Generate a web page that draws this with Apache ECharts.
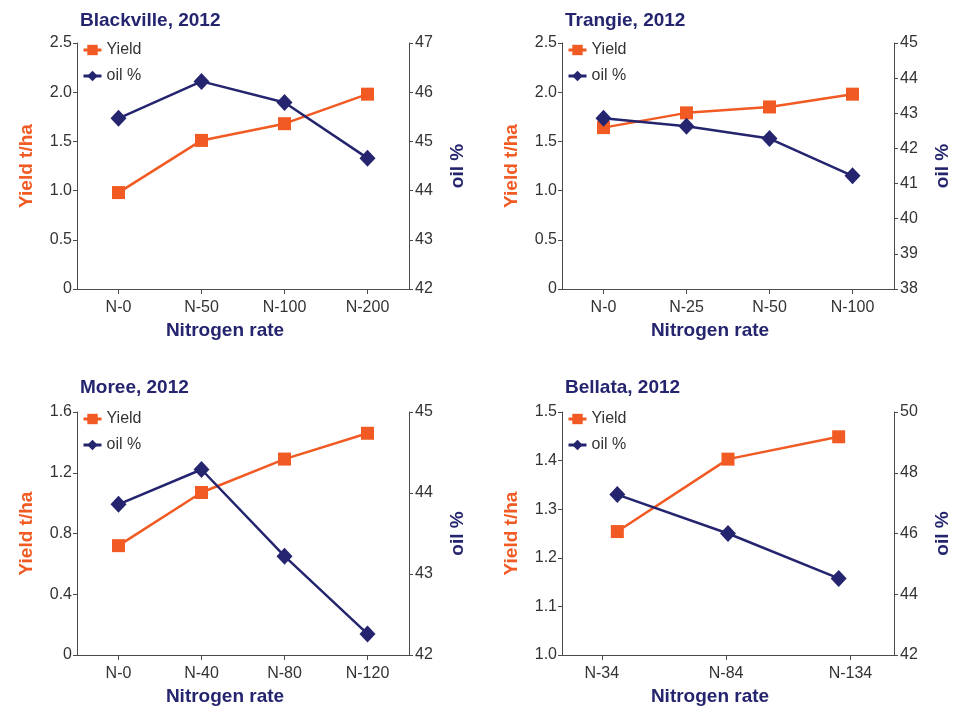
<!DOCTYPE html>
<html><head><meta charset="utf-8">
<script src="https://cdn.jsdelivr.net/npm/echarts@6/dist/echarts.min.js"></script>
<style>html,body{margin:0;padding:0;background:#fff}#c{width:954px;height:707px}</style>
</head><body><div id="c"></div>
<script>
// ---- data ----
const titles = ['Blackville, 2012', 'Trangie, 2012', 'Moree, 2012', 'Bellata, 2012'];
const catBlackville = ['N-0', 'N-50', 'N-100', 'N-200'];
const catTrangie = ['N-0', 'N-25', 'N-50', 'N-100'];
const catMoree = ['N-0', 'N-40', 'N-80', 'N-120'];
const catBellata = ['N-34', 'N-84', 'N-134'];

const yieldBlackville = [0.98, 1.51, 1.68, 1.98];
const oilBlackville = [45.47, 46.22, 45.79, 44.66];
const yieldTrangie = [1.64, 1.79, 1.85, 1.98];
const oilTrangie = [42.86, 42.63, 42.28, 41.22];
const yieldMoree = [0.72, 1.07, 1.29, 1.46];
const oilMoree = [43.86, 44.29, 43.22, 42.26];
const yieldBellata = [1.254, 1.403, 1.449];
const oilBellata = [47.28, 46.0, 44.52];

const yTicksBlackville = ['0', '0.5', '1.0', '1.5', '2.0', '2.5'];
const oTicksBlackville = ['42', '43', '44', '45', '46', '47'];
const yTicksTrangie = ['0', '0.5', '1.0', '1.5', '2.0', '2.5'];
const oTicksTrangie = ['38', '39', '40', '41', '42', '43', '44', '45'];
const yTicksMoree = ['0', '0.4', '0.8', '1.2', '1.6'];
const oTicksMoree = ['42', '43', '44', '45'];
const yTicksBellata = ['1.0', '1.1', '1.2', '1.3', '1.4', '1.5'];
const oTicksBellata = ['42', '44', '46', '48', '50'];

// ---- styles ----
const ORANGE = '#f15a22';
const NAVY = '#24246f';
const AXIS = '#4a4a4a';
const TXT = '#333333';
const FONT = '"Liberation Sans", Arial, sans-serif';

const panels = [
  {title: titles[0], cats: catBlackville, y: yieldBlackville, o: oilBlackville, yT: yTicksBlackville, oT: oTicksBlackville,
   yMin: 0, yMax: 2.5, yInt: 0.5, oMin: 42, oMax: 47, oInt: 1, left: 77, right: 545, top: 43, height: 246, tx: 80, ty: 11},
  {title: titles[1], cats: catTrangie, y: yieldTrangie, o: oilTrangie, yT: yTicksTrangie, oT: oTicksTrangie,
   yMin: 0, yMax: 2.5, yInt: 0.5, oMin: 38, oMax: 45, oInt: 1, left: 562, right: 60, top: 43, height: 246, tx: 565, ty: 11},
  {title: titles[2], cats: catMoree, y: yieldMoree, o: oilMoree, yT: yTicksMoree, oT: oTicksMoree,
   yMin: 0, yMax: 1.6, yInt: 0.4, oMin: 42, oMax: 45, oInt: 1, left: 77, right: 545, top: 412, height: 246, tx: 80, ty: 378},
  {title: titles[3], cats: catBellata, y: yieldBellata, o: oilBellata, yT: yTicksBellata, oT: oTicksBellata,
   yMin: 1.0, yMax: 1.5, yInt: 0.1, oMin: 42, oMax: 50, oInt: 2, left: 562, right: 60, top: 412, height: 246, tx: 565, ty: 378,
   offsetTicks: true}
];

const option = {
  animation: false,
  backgroundColor: '#ffffff',
  title: [], grid: [], xAxis: [], yAxis: [], series: [], legend: []
};

function tickFmt(arr, min, step) {
  return function (v) { const i = Math.round((v - min) / step); return arr[i] !== undefined ? arr[i] : ''; };
}

panels.forEach((p, i) => {
  option.title.push({text: p.title, left: p.tx, top: p.ty,
    textStyle: {color: NAVY, fontFamily: FONT, fontWeight: 'bold', fontSize: 19}, padding: 0});
  option.grid.push({left: p.left, right: p.right, top: p.top, height: p.height, containLabel: false});
  const xi = option.xAxis.length;
  option.xAxis.push({
    type: 'category', gridIndex: i, data: p.cats, boundaryGap: true, position: 'bottom',
    axisLine: {onZero: false, lineStyle: {color: AXIS, width: 1}},
    axisTick: {show: !p.offsetTicks, alignWithLabel: true, length: 5, lineStyle: {color: AXIS}},
    axisLabel: {show: !p.offsetTicks, color: TXT, fontFamily: FONT, fontSize: 16, margin: 11},
    name: 'Nitrogen rate', nameLocation: 'middle', nameGap: 32,
    nameTextStyle: {color: NAVY, fontFamily: FONT, fontWeight: 'bold', fontSize: 19, padding: [0, 36, 0, 0]}
  });
  if (p.offsetTicks) {
    option.xAxis.push({
      type: 'value', gridIndex: i, position: 'bottom', min: -0.32, max: 2.35,
      axisLine: {show: false, onZero: false}, splitLine: {show: false},
      axisTick: {show: true, length: 5, customValues: [0, 1, 2], lineStyle: {color: AXIS}},
      axisLabel: {show: true, customValues: [0, 1, 2], color: TXT, fontFamily: FONT, fontSize: 16, margin: 11,
        formatter: v => p.cats[Math.round(v)]}
    });
  }
  const yi = option.yAxis.length;
  option.yAxis.push({
    type: 'value', gridIndex: i, position: 'left', min: p.yMin, max: p.yMax, interval: p.yInt,
    splitLine: {show: false},
    axisLine: {show: true, onZero: false, lineStyle: {color: AXIS, width: 1}},
    axisTick: {show: true, length: 4, lineStyle: {color: AXIS}},
    axisLabel: {color: TXT, fontFamily: FONT, fontSize: 16, margin: 5, formatter: tickFmt(p.yT, p.yMin, p.yInt)},
    name: 'Yield t/ha', nameLocation: 'middle', nameRotate: 90, nameGap: 41,
    nameTextStyle: {color: ORANGE, fontFamily: FONT, fontWeight: 'bold', fontSize: 19}
  });
  option.yAxis.push({
    type: 'value', gridIndex: i, position: 'right', min: p.oMin, max: p.oMax, interval: p.oInt,
    splitLine: {show: false},
    axisLine: {show: true, onZero: false, lineStyle: {color: AXIS, width: 1}},
    axisTick: {show: true, length: 4, lineStyle: {color: AXIS}},
    axisLabel: {color: TXT, fontFamily: FONT, fontSize: 16, margin: 6, formatter: tickFmt(p.oT, p.oMin, p.oInt)},
    name: 'oil %', nameLocation: 'middle', nameRotate: 90, nameGap: 39,
    nameTextStyle: {color: NAVY, fontFamily: FONT, fontWeight: 'bold', fontSize: 19}
  });
  const yName = 'Yield' + ' '.repeat(i);
  const oName = 'oil %' + ' '.repeat(i);
  option.series.push({
    name: yName, type: 'line', xAxisIndex: xi, yAxisIndex: yi, data: p.y,
    symbol: 'rect', symbolSize: 13, color: ORANGE,
    lineStyle: {color: ORANGE, width: 2.5}, itemStyle: {color: ORANGE}, z: 2
  });
  option.series.push({
    name: oName, type: 'line', xAxisIndex: xi, yAxisIndex: yi + 1, data: p.o,
    symbol: 'diamond', symbolSize: [16, 17], color: NAVY,
    lineStyle: {color: NAVY, width: 2.5}, itemStyle: {color: NAVY}, z: 3
  });
  option.legend.push({
    data: [yName, oName],
    orient: 'vertical', left: p.left + 5, top: p.top - 1, padding: 0,
    itemWidth: 18, itemHeight: 13, itemGap: 10,
    lineStyle: {width: 3},
    formatter: n => n.trim(),
    textStyle: {color: TXT, fontFamily: FONT, fontSize: 16, padding: [0, 0, 0, 0]}
  });
});

const chart = echarts.init(document.getElementById('c'), null, {renderer: 'canvas'});
chart.setOption(option);
</script>
</body></html>
